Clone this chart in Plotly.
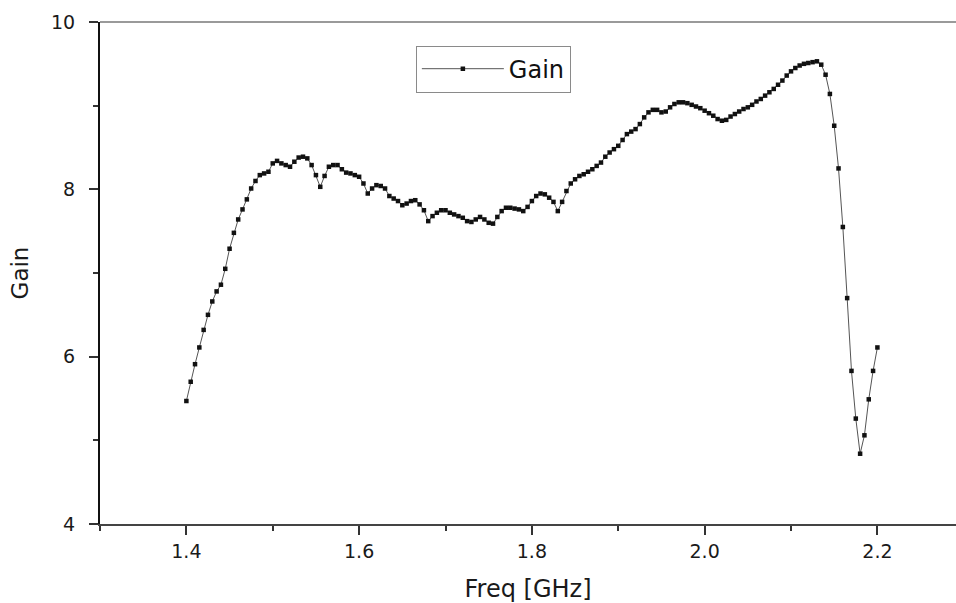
import plotly.graph_objects as go

freq_ghz = [
    1.400, 1.405, 1.410, 1.415, 1.420, 1.425, 1.430, 1.435, 1.440, 1.445,
    1.450, 1.455, 1.460, 1.465, 1.470, 1.475, 1.480, 1.485, 1.490, 1.495,
    1.500, 1.505, 1.510, 1.515, 1.520, 1.525, 1.530, 1.535, 1.540, 1.545,
    1.550, 1.555, 1.560, 1.565, 1.570, 1.575, 1.580, 1.585, 1.590, 1.595,
    1.600, 1.605, 1.610, 1.615, 1.620, 1.625, 1.630, 1.635, 1.640, 1.645,
    1.650, 1.655, 1.660, 1.665, 1.670, 1.675, 1.680, 1.685, 1.690, 1.695,
    1.700, 1.705, 1.710, 1.715, 1.720, 1.725, 1.730, 1.735, 1.740, 1.745,
    1.750, 1.755, 1.760, 1.765, 1.770, 1.775, 1.780, 1.785, 1.790, 1.795,
    1.800, 1.805, 1.810, 1.815, 1.820, 1.825, 1.830, 1.835, 1.840, 1.845,
    1.850, 1.855, 1.860, 1.865, 1.870, 1.875, 1.880, 1.885, 1.890, 1.895,
    1.900, 1.905, 1.910, 1.915, 1.920, 1.925, 1.930, 1.935, 1.940, 1.945,
    1.950, 1.955, 1.960, 1.965, 1.970, 1.975, 1.980, 1.985, 1.990, 1.995,
    2.000, 2.005, 2.010, 2.015, 2.020, 2.025, 2.030, 2.035, 2.040, 2.045,
    2.050, 2.055, 2.060, 2.065, 2.070, 2.075, 2.080, 2.085, 2.090, 2.095,
    2.100, 2.105, 2.110, 2.115, 2.120, 2.125, 2.130, 2.135, 2.140, 2.145,
    2.150, 2.155, 2.160, 2.165, 2.170, 2.175, 2.180, 2.185, 2.190, 2.195,
    2.200,
]

gain = [
    5.47, 5.70, 5.91, 6.11, 6.32, 6.50, 6.66, 6.78, 6.86, 7.05,
    7.29, 7.48, 7.64, 7.76, 7.88, 8.01, 8.10, 8.17, 8.19, 8.21,
    8.31, 8.34, 8.31, 8.29, 8.27, 8.33, 8.38, 8.39, 8.37, 8.29,
    8.17, 8.03, 8.16, 8.27, 8.29, 8.29, 8.24, 8.20, 8.19, 8.17,
    8.15, 8.07, 7.95, 8.01, 8.05, 8.04, 8.01, 7.92, 7.89, 7.86,
    7.81, 7.83, 7.86, 7.87, 7.82, 7.75, 7.62, 7.68, 7.72, 7.75,
    7.75, 7.72, 7.70, 7.68, 7.66, 7.62, 7.61, 7.64, 7.67, 7.64,
    7.60, 7.59, 7.67, 7.74, 7.78, 7.78, 7.77, 7.76, 7.74, 7.79,
    7.86, 7.92, 7.95, 7.94, 7.90, 7.85, 7.74, 7.85, 7.98, 8.07,
    8.12, 8.16, 8.18, 8.21, 8.24, 8.28, 8.32, 8.39, 8.44, 8.48,
    8.52, 8.59, 8.66, 8.69, 8.72, 8.78, 8.86, 8.92, 8.95, 8.95,
    8.92, 8.93, 8.98, 9.02, 9.04, 9.04, 9.03, 9.01, 8.99, 8.97,
    8.94, 8.91, 8.88, 8.84, 8.82, 8.83, 8.87, 8.90, 8.93, 8.96,
    8.98, 9.01, 9.05, 9.08, 9.12, 9.16, 9.20, 9.25, 9.30, 9.36,
    9.41, 9.45, 9.48, 9.50, 9.51, 9.52, 9.53, 9.49, 9.37, 9.14,
    8.76, 8.25, 7.55, 6.70, 5.83, 5.26, 4.84, 5.06, 5.49, 5.83,
    6.11,
]

x_ticks = [1.4, 1.6, 1.8, 2.0, 2.2]
x_tick_labels = ["1.4", "1.6", "1.8", "2.0", "2.2"]
x_minor_ticks = [1.3, 1.5, 1.7, 1.9, 2.1]
y_ticks = [4, 6, 8, 10]
y_tick_labels = ["4", "6", "8", "10"]
y_minor_ticks = [5, 7, 9]

FONT = "DejaVu Sans"
TXT = "#1a1a1a"

fig = go.Figure()
fig.add_trace(go.Scatter(
    x=freq_ghz, y=gain, name="Gain", mode="lines+markers",
    line=dict(color="#555555", width=1),
    marker=dict(symbol="square", size=4.5, color="#111111"),
))

fig.update_layout(
    width=956, height=603,
    paper_bgcolor="white", plot_bgcolor="white",
    margin=dict(l=100, r=0, t=22, b=79, pad=0),
    font=dict(family=FONT, color=TXT),
    showlegend=True,
    legend=dict(
        x=0.369, y=0.953, xanchor="left", yanchor="top",
        bgcolor="white", bordercolor="#8a8a8a", borderwidth=1,
        font=dict(family=FONT, size=24, color="#111111"),
        itemwidth=82,
        tracegroupgap=0,
    ),
    xaxis=dict(
        range=[1.3, 2.291], tickvals=x_ticks, ticktext=x_tick_labels,
        showgrid=False, zeroline=False,
        showline=True, linecolor="#444444", linewidth=2,
        ticks="outside", ticklen=9, tickwidth=1.5, tickcolor="#333333",
        tickfont=dict(family=FONT, size=19, color=TXT),
        minor=dict(tickvals=x_minor_ticks, ticks="outside",
                   ticklen=5, tickwidth=1.5, tickcolor="#333333"),
        title=dict(text="Freq [GHz]", font=dict(family=FONT, size=24, color=TXT),
                   standoff=20),
    ),
    yaxis=dict(
        range=[4, 10], tickvals=y_ticks, ticktext=y_tick_labels,
        showgrid=False, zeroline=False,
        showline=True, linecolor="#111111", linewidth=2,
        ticks="outside", ticklen=9, tickwidth=1.5, tickcolor="#333333",
        tickfont=dict(family=FONT, size=19, color=TXT),
        ticklabelstandoff=10,
        minor=dict(tickvals=y_minor_ticks, ticks="outside",
                   ticklen=5, tickwidth=1.5, tickcolor="#333333"),
        title=dict(text="Gain", font=dict(family=FONT, size=23, color=TXT),
                   standoff=16),
    ),
)

# top frame line (lighter grey, as in the reference)
fig.add_shape(type="line", xref="paper", yref="paper", x0=0, x1=1, y0=1, y1=1,
              line=dict(color="#9a9a9a", width=2))

fig.write_html("out.html", config={"displayModeBar": False},
               post_script="document.body.style.margin='0';")
